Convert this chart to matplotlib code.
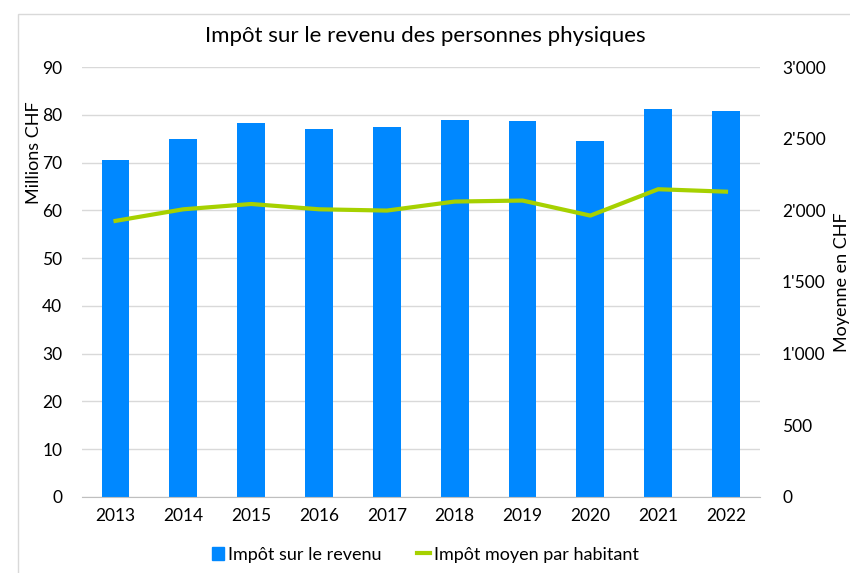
import matplotlib
matplotlib.use("Agg")
import matplotlib.pyplot as plt
from matplotlib.ticker import FuncFormatter
from matplotlib.patches import Rectangle
from matplotlib.lines import Line2D

# data
years = ["2013", "2014", "2015", "2016", "2017", "2018", "2019", "2020", "2021", "2022"]
impot_total = [70.5, 75.0, 78.2, 77.1, 77.4, 79.0, 78.8, 74.5, 81.3, 80.8]  # millions CHF
impot_moyen = [1926, 2007, 2044, 2007, 1998, 2061, 2068, 1963, 2147, 2130]  # CHF per capita

plt.rcParams["font.family"] = ["Lato", "DejaVu Sans"]
blue = "#0088FF"
green = "#A6D100"

fig = plt.figure(figsize=(8.5, 5.73), dpi=100)
fig.patches.append(Rectangle((0.021, -0.01), 0.99, 0.985, transform=fig.transFigure,
                             fill=False, edgecolor="#D9D9D9", linewidth=1))
ax = fig.add_axes([0.096, 0.133, 0.798, 0.750])
x = range(len(years))
ax.bar(x, impot_total, width=0.41, color=blue, zorder=2)
ax.set_ylim(0, 90)
ax.set_yticks(range(0, 91, 10))
ax.set_xlim(-0.5, len(years) - 0.5)
ax.set_xticks(list(x))
ax.set_xticklabels(years)
ax.grid(axis="y", color="#D9D9D9", linewidth=1, zorder=0)
for s in ["top", "right", "left"]:
    ax.spines[s].set_visible(False)
ax.spines["bottom"].set_color("#BFBFBF")
ax.tick_params(axis="both", length=0, labelsize=12.5, colors="#000000")
ax.tick_params(axis="y", pad=14)
ax.tick_params(axis="x", pad=8)
ax.set_ylabel("Millions CHF", fontsize=13)
ax.yaxis.set_label_coords(-0.058, 0.80)

ax2 = ax.twinx()
ax2.plot(x, impot_moyen, color=green, linewidth=3, zorder=3)
ax2.set_ylim(0, 3000)
ax2.set_yticks(range(0, 3001, 500))
ax2.yaxis.set_major_formatter(FuncFormatter(lambda v, p: f"{int(v):,}".replace(",", "'")))
for s in ["top", "right", "left", "bottom"]:
    ax2.spines[s].set_visible(False)
ax2.tick_params(axis="y", length=0, labelsize=12.5, pad=16)
ax2.set_ylabel("Moyenne en CHF", fontsize=13, labelpad=6)

fig.suptitle("Impôt sur le revenu des personnes physiques", fontsize=16, y=0.955)

handles = [Rectangle((0, 0), 1, 1, color=blue),
           Line2D([0], [0], color=green, linewidth=3)]
fig.legend(handles, ["Impôt sur le revenu", "Impôt moyen par habitant"],
           loc="center", bbox_to_anchor=(0.5, 0.032), ncol=2, frameon=False,
           fontsize=13, handlelength=0.7, handleheight=0.7, handletextpad=0.2,
           columnspacing=2.0)

fig.savefig("out.png", dpi=100)
